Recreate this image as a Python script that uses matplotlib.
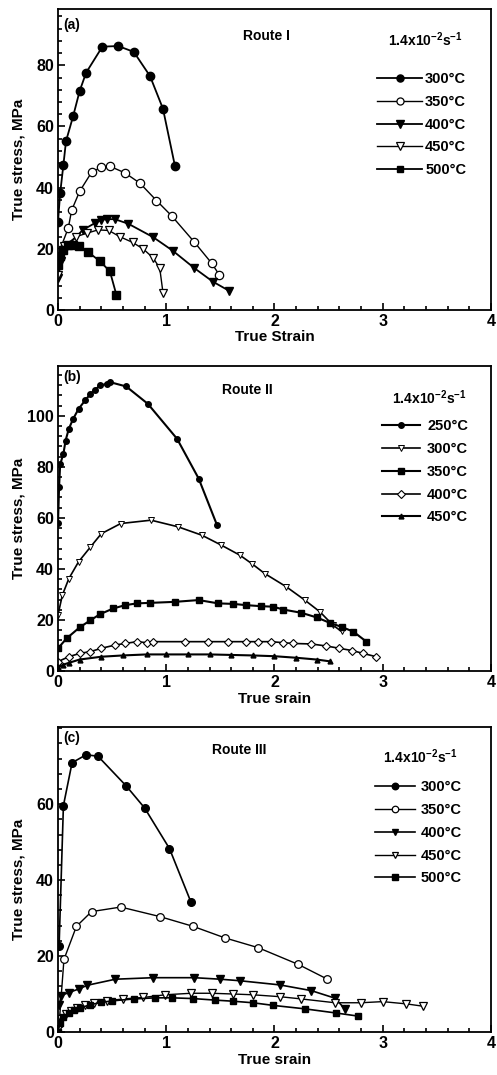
import numpy as np
import matplotlib
matplotlib.use("Agg")
import matplotlib.pyplot as plt
from matplotlib.ticker import MultipleLocator

plt.rcParams['font.family'] = ['Liberation Sans', 'DejaVu Sans']
plt.rcParams['font.weight'] = 'bold'
plt.rcParams['mathtext.fontset'] = 'custom'
plt.rcParams['mathtext.rm'] = 'Liberation Sans:bold'
plt.rcParams['mathtext.bf'] = 'Liberation Sans:bold'
plt.rcParams['mathtext.default'] = 'bf'

# ---- Route I (a) ----
a_labels = ['300°C', '350°C', '400°C', '450°C', '500°C']
a300_x = [0.0, 0.02, 0.05, 0.074, 0.14, 0.20, 0.26, 0.41, 0.556, 0.70, 0.85, 0.97, 1.08]
a300_y = [28.9, 38.2, 47.5, 55.2, 63.4, 71.6, 77.6, 86.1, 86.3, 84.4, 76.5, 65.8, 47.2]
a350_x = [0.01, 0.095, 0.126, 0.20, 0.31, 0.40, 0.48, 0.62, 0.756, 0.91, 1.05, 1.26, 1.42, 1.49]
a350_y = [19.0, 26.8, 32.6, 38.8, 45.0, 46.7, 47.0, 44.8, 41.5, 35.8, 30.8, 22.2, 15.3, 11.5]
a400_x = [0.0, 0.03, 0.08, 0.23, 0.34, 0.40, 0.45, 0.525, 0.65, 0.88, 1.06, 1.26, 1.43, 1.58]
a400_y = [10.4, 16.0, 20.8, 26.2, 28.4, 29.5, 29.7, 29.7, 28.2, 23.8, 19.4, 13.7, 9.3, 6.3]
a450_x = [0.0, 0.06, 0.17, 0.265, 0.37, 0.47, 0.57, 0.69, 0.79, 0.88, 0.94, 0.97]
a450_y = [11.5, 21.0, 24.0, 25.1, 26.2, 26.0, 24.0, 22.1, 19.9, 17.0, 13.7, 5.7]
a500_x = [0.0, 0.02, 0.05, 0.09, 0.14, 0.19, 0.28, 0.39, 0.48, 0.54]
a500_y = [14.8, 17.5, 19.7, 21.3, 21.3, 20.8, 18.9, 15.9, 12.6, 4.9]

# ---- Route II (b) ----
b_labels = ['250°C', '300°C', '350°C', '400°C', '450°C']
b250_x = [0.0, 0.01, 0.02, 0.05, 0.07, 0.10, 0.14, 0.19, 0.25, 0.30, 0.34, 0.39, 0.45, 0.48,
          0.63, 0.83, 1.10, 1.30, 1.47]
b250_y = [58.0, 72.1, 81.0, 85.1, 90.3, 94.9, 98.8, 102.7, 106.0, 108.6, 110.2, 111.9, 112.5, 113.2,
          111.5, 104.7, 91.0, 75.4, 57.1]
b300_x = [0.0, 0.04, 0.10, 0.19, 0.30, 0.40, 0.58, 0.86, 1.11, 1.33, 1.51, 1.68, 1.79, 1.91,
          2.11, 2.28, 2.42, 2.54, 2.62]
b300_y = [22.0, 29.7, 36.2, 42.8, 48.6, 53.8, 57.8, 59.1, 56.5, 53.2, 49.3, 45.4, 42.1, 38.2,
          33.0, 27.8, 23.2, 18.0, 15.5]
b350_x = [0.0, 0.08, 0.20, 0.30, 0.39, 0.51, 0.62, 0.73, 0.85, 1.08, 1.30, 1.48, 1.62, 1.74,
          1.88, 1.99, 2.08, 2.25, 2.39, 2.51, 2.62, 2.73, 2.85]
b350_y = [8.9, 12.8, 17.1, 19.9, 22.3, 24.5, 25.8, 26.5, 26.7, 27.1, 27.8, 26.5, 26.3, 25.8,
          25.4, 25.2, 24.1, 22.8, 21.0, 18.9, 17.3, 15.4, 11.5]
b400_x = [0.0, 0.10, 0.20, 0.30, 0.40, 0.53, 0.62, 0.73, 0.82, 0.88, 1.17, 1.39, 1.57, 1.74,
          1.85, 1.97, 2.08, 2.17, 2.34, 2.48, 2.60, 2.72, 2.82, 2.94]
b400_y = [3.7, 5.6, 6.9, 7.6, 8.9, 10.2, 10.8, 11.5, 11.1, 11.5, 11.5, 11.5, 11.5, 11.5,
          11.5, 11.5, 11.1, 10.8, 10.6, 9.8, 8.9, 8.0, 6.9, 5.6]
b450_x = [0.0, 0.05, 0.10, 0.20, 0.40, 0.60, 0.82, 1.00, 1.20, 1.40, 1.60, 1.80, 2.00, 2.20,
          2.39, 2.51]
b450_y = [1.5, 2.5, 3.2, 4.5, 5.6, 6.1, 6.5, 6.5, 6.5, 6.5, 6.3, 6.1, 5.8, 5.2,
          4.5, 3.8]

# ---- Route III (c) ----
c_labels = ['300°C', '350°C', '400°C', '450°C', '500°C']
c300_x = [0.01, 0.05, 0.13, 0.26, 0.37, 0.63, 0.80, 1.03, 1.23]
c300_y = [22.6, 59.6, 70.9, 73.0, 72.6, 64.8, 59.0, 48.3, 34.1]
c350_x = [0.01, 0.055, 0.17, 0.31, 0.58, 0.94, 1.25, 1.54, 1.85, 2.22, 2.49]
c350_y = [2.0, 19.1, 27.8, 31.7, 32.9, 30.4, 27.8, 24.8, 22.2, 17.8, 13.9]
c400_x = [0.01, 0.03, 0.10, 0.19, 0.27, 0.53, 0.88, 1.26, 1.50, 1.68, 2.05, 2.34, 2.56, 2.65]
c400_y = [7.0, 9.6, 10.4, 11.3, 12.3, 13.9, 14.3, 14.3, 13.9, 13.5, 12.4, 10.9, 8.9, 6.1]
c450_x = [0.01, 0.03, 0.07, 0.12, 0.18, 0.25, 0.33, 0.45, 0.60, 0.79, 0.99, 1.23, 1.42, 1.62,
          1.80, 2.05, 2.25, 2.56, 2.80, 3.00, 3.22, 3.37]
c450_y = [1.3, 3.5, 4.8, 5.5, 6.2, 7.0, 7.6, 8.2, 8.7, 9.1, 9.8, 10.2, 10.2, 10.0,
          9.8, 9.3, 8.7, 7.7, 7.7, 8.0, 7.4, 6.8]
c500_x = [0.0, 0.02, 0.05, 0.10, 0.15, 0.20, 0.30, 0.40, 0.50, 0.70, 0.90, 1.05, 1.25, 1.45,
          1.62, 1.80, 1.99, 2.28, 2.57, 2.77]
c500_y = [0.0, 2.5, 4.0, 5.0, 5.8, 6.3, 7.2, 7.8, 8.2, 8.7, 9.0, 9.0, 8.8, 8.4,
          8.1, 7.7, 7.0, 6.1, 5.0, 4.2]

rate_text = r'1.4x10$^{-2}$s$^{-1}$'


def style_axes(ax, ymax, yticks, xlabel):
    ax.set_xlim(0, 4)
    ax.set_ylim(0, ymax)
    ax.set_xticks([0, 1, 2, 3, 4])
    ax.set_yticks(yticks)
    ax.xaxis.set_minor_locator(MultipleLocator(0.2))
    ax.yaxis.set_minor_locator(MultipleLocator(4))
    ax.tick_params(which='both', direction='in', top=False, right=False,
                   labelsize=11.5, width=1.2)
    ax.tick_params(which='major', length=5, pad=3)
    ax.tick_params(which='minor', length=3)
    for sp in ax.spines.values():
        sp.set_linewidth(1.3)
    ax.set_xlabel(xlabel, fontsize=11, fontweight='bold')
    ax.set_ylabel('True stress, MPa', fontsize=11, fontweight='bold')
    ax.xaxis.set_label_coords(0.5, -0.068)
    ax.yaxis.set_label_coords(-0.075, 0.5)
    for t in ax.get_xticklabels() + ax.get_yticklabels():
        t.set_fontweight('bold')


fig = plt.figure(figsize=(4.97, 10.75), dpi=100)

# panel (a)
ax = fig.add_axes([0.1167, 0.7116, 0.871, 0.280])
ms = 6
ax.plot(a300_x, a300_y, '-o', color='k', mfc='k', ms=ms, lw=1.3, label=a_labels[0])
ax.plot(a350_x, a350_y, '-o', color='k', mfc='white', ms=ms, lw=1.0, mew=0.9, label=a_labels[1])
ax.plot(a400_x, a400_y, '-v', color='k', mfc='k', ms=ms, lw=1.3, label=a_labels[2])
ax.plot(a450_x, a450_y, '-v', color='k', mfc='white', ms=ms, lw=1.0, mew=0.9, label=a_labels[3])
ax.plot(a500_x, a500_y, '-s', color='k', mfc='k', ms=5.5, lw=1.3, label=a_labels[4])
style_axes(ax, 98.4, [0, 20, 40, 60, 80], 'True Strain')
ax.text(0.012, 0.947, '(a)', transform=ax.transAxes, fontsize=10, fontweight='bold', va='center')
ax.text(0.427, 0.91, 'Route I', transform=ax.transAxes, fontsize=10, fontweight='bold', va='center')
ax.text(0.762, 0.897, rate_text, transform=ax.transAxes, fontsize=10, va='center')
ax.legend(loc='upper left', bbox_to_anchor=(0.737, 0.79), frameon=False, borderpad=0,
          borderaxespad=0, handlelength=3.1, handletextpad=0.2, labelspacing=0.6,
          fontsize=10.5, markerscale=0.85)

# panel (b)
ax = fig.add_axes([0.1167, 0.3758, 0.871, 0.2837])
ms = 4
ax.plot(b250_x, b250_y, '-o', color='k', mfc='k', ms=ms, lw=1.5, label=b_labels[0])
ax.plot(b300_x, b300_y, '-v', color='k', mfc='white', ms=4.5, lw=1.2, mew=0.7, label=b_labels[1])
ax.plot(b350_x, b350_y, '-s', color='k', mfc='k', ms=ms, lw=1.5, label=b_labels[2])
ax.plot(b400_x, b400_y, '-D', color='k', mfc='white', ms=4.2, lw=1.2, mew=0.8, label=b_labels[3])
ax.plot(b450_x, b450_y, '-^', color='k', mfc='k', ms=3.5, lw=1.5, label=b_labels[4])
style_axes(ax, 119.5, [0, 20, 40, 60, 80, 100], 'True srain')
ax.text(0.012, 0.964, '(b)', transform=ax.transAxes, fontsize=10, fontweight='bold', va='center')
ax.text(0.378, 0.921, 'Route II', transform=ax.transAxes, fontsize=10, fontweight='bold', va='center')
ax.text(0.771, 0.895, rate_text, transform=ax.transAxes, fontsize=10, va='center')
ax.legend(loc='upper left', bbox_to_anchor=(0.748, 0.825), frameon=False, borderpad=0,
          borderaxespad=0, handlelength=2.6, handletextpad=0.5, labelspacing=0.6,
          fontsize=10.5)

# panel (c)
ax = fig.add_axes([0.1167, 0.04, 0.871, 0.2837])
ms = 5.5
ax.plot(c300_x, c300_y, '-o', color='k', mfc='k', ms=ms, lw=1.2, label=c_labels[0])
ax.plot(c350_x, c350_y, '-o', color='k', mfc='white', ms=ms, lw=1.0, mew=0.9, label=c_labels[1])
ax.plot(c400_x, c400_y, '-v', color='k', mfc='k', ms=ms, lw=1.2, label=c_labels[2])
ax.plot(c450_x, c450_y, '-v', color='k', mfc='white', ms=ms, lw=1.0, mew=0.9, label=c_labels[3])
ax.plot(c500_x, c500_y, '-s', color='k', mfc='k', ms=5, lw=1.2, label=c_labels[4])
style_axes(ax, 80.3, [0, 20, 40, 60], 'True srain')
ax.text(0.012, 0.964, '(c)', transform=ax.transAxes, fontsize=10, fontweight='bold', va='center')
ax.text(0.355, 0.925, 'Route III', transform=ax.transAxes, fontsize=10, fontweight='bold', va='center')
ax.text(0.751, 0.903, rate_text, transform=ax.transAxes, fontsize=10, va='center')
ax.legend(loc='upper left', bbox_to_anchor=(0.732, 0.825), frameon=False, borderpad=0,
          borderaxespad=0, handlelength=2.75, handletextpad=0.4, labelspacing=0.6,
          fontsize=10.5, markerscale=0.85)

fig.savefig('out.png', dpi=100)
